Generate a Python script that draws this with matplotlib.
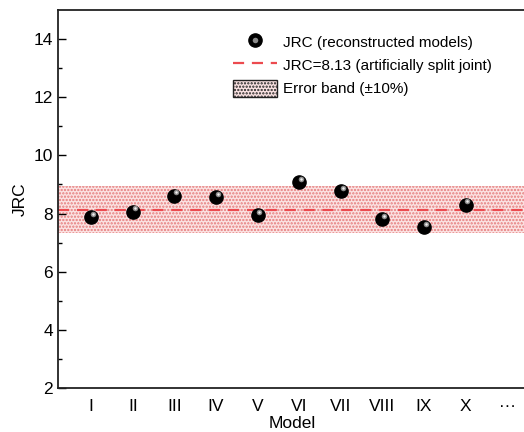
import matplotlib
matplotlib.use("Agg")
import matplotlib.pyplot as plt
import matplotlib.transforms as mtransforms
from matplotlib.lines import Line2D
from matplotlib.patches import Patch
from matplotlib.legend_handler import HandlerTuple
import numpy as np

plt.rcParams["font.family"] = ["Liberation Sans", "DejaVu Sans"]
plt.rcParams["hatch.linewidth"] = 1.1

model_labels = ["I", "II", "III", "IV", "V", "VI", "VII", "VIII", "IX", "X", "···"]
model_pos = np.arange(1, 12)
jrc_models = [7.87, 8.07, 8.62, 8.57, 7.95, 9.07, 8.77, 7.80, 7.52, 8.31]
jrc_split = 8.13
band_frac = 0.10

band_face = "#fbe3e3"
band_dots = "#e57b7b"
red = "#ec4a4f"

fig = plt.figure(figsize=(5.24, 4.32), dpi=100)
ax = fig.add_axes([58 / 524, 44 / 432, 468 / 524, 378 / 432])
ax.set_xlim(0.2, 11.45)
ax.set_ylim(2, 15)

# +/-10 % band around the split-joint value
xb = np.array([0.2, 11.45])
ax.fill_between(xb, jrc_split * (1 - band_frac), jrc_split * (1 + band_frac),
                facecolor=band_face, edgecolor=band_dots, hatch=".....",
                linewidth=0, zorder=1)
ax.axhline(jrc_split, color=red, linestyle=(0, (5, 3.5)), linewidth=1.6, zorder=2)

# spheres: black ball with a small shine offset up and to the right
x_m = model_pos[:len(jrc_models)]
ax.plot(x_m, jrc_models, "o", color="black", markersize=9.5, zorder=3)
shine = ax.transData + mtransforms.ScaledTranslation(1.2 / 72, 2.2 / 72, fig.dpi_scale_trans)
ax.plot(x_m, jrc_models, "o", color="#8a8a8a", markersize=4, markeredgewidth=0,
        transform=shine, zorder=4)
ax.plot(x_m, jrc_models, "o", color="#f0f0f0", markersize=1.8, markeredgewidth=0,
        transform=shine, zorder=5)

ax.set_xticks(model_pos)
ax.set_xticklabels(model_labels)
ax.set_yticks([2, 4, 6, 8, 10, 12, 14])
ax.set_yticks(np.arange(3, 15, 2), minor=True)
ax.tick_params(axis="y", which="major", direction="in", length=6, width=1, labelsize=12.5)
ax.tick_params(axis="y", which="minor", direction="in", length=3, width=1)
ax.tick_params(axis="x", length=0, labelsize=12.5, pad=8)
for s in ax.spines.values():
    s.set_linewidth(1.3)
    s.set_color("#222222")
ax.spines["right"].set_visible(False)

ax.set_xlabel("Model", fontsize=12.5, labelpad=1)
ax.set_ylabel("JRC", fontsize=12.5, labelpad=4)

h_ball = (Line2D([], [], marker="o", color="black", markersize=9.5, linestyle="none"),
          Line2D([], [], marker="o", color="#8a8a8a", markersize=4, markeredgewidth=0,
                 linestyle="none"))
h_line = Line2D([], [], color=red, linestyle=(0, (5, 3.5)), linewidth=1.6)
h_band = Patch(facecolor=band_face, edgecolor="#222222", hatch=".....", linewidth=1)
leg = ax.legend([h_ball, h_line, h_band],
                ["JRC (reconstructed models)", "JRC=8.13 (artificially split joint)",
                 "Error band (±10%)"],
                handler_map={tuple: HandlerTuple(ndivide=1, pad=0)},
                loc="upper left", bbox_to_anchor=(0.361, 0.955), borderaxespad=0,
                frameon=False, fontsize=11, handlelength=2.9, handleheight=1.35,
                labelspacing=0.4, handletextpad=0.35)

fig.savefig("out.png", dpi=100)
